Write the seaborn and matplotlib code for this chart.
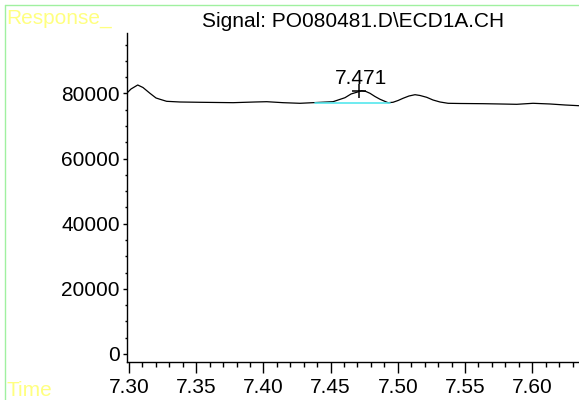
import matplotlib
matplotlib.use('Agg')
import matplotlib.pyplot as plt
from matplotlib.ticker import MultipleLocator
from matplotlib.lines import Line2D
import seaborn as sns

# chromatogram trace
time = [7.2983, 7.3015, 7.3065, 7.3104, 7.3156, 7.3201, 7.3231, 7.3280, 7.3379, 7.3528,
        7.3774, 7.3937, 7.4025, 7.4146, 7.4272, 7.4369, 7.4518, 7.4607, 7.4652, 7.4694,
        7.4731, 7.4763, 7.4793, 7.4830, 7.4868, 7.4927, 7.4964, 7.5002, 7.5039, 7.5083,
        7.5128, 7.5165, 7.5215, 7.5262, 7.5314, 7.5374, 7.5463, 7.5634, 7.5760, 7.5885,
        7.6006, 7.6132, 7.6244, 7.6348]
response = [80060, 81380, 82610, 81840, 80060, 78620, 78220, 77600, 77390, 77300,
            77180, 77390, 77480, 77180, 76990, 77180, 77480, 78710, 79850, 80370,
            80860, 80610, 80060, 79080, 78220, 77180, 77300, 77850, 78530, 79230,
            79630, 79390, 78830, 78000, 77390, 76990, 76930, 76870, 76780, 76680,
            76990, 76780, 76470, 76250]

peak_time = 7.471
peak_resp = 80860
peak_label = '7.471'
base_time = [7.4384, 7.4942]
base_resp = [76990, 76990]

title = 'Signal: PO080481.D\\ECD1A.CH'
x_ticks = [7.30, 7.35, 7.40, 7.45, 7.50, 7.55, 7.60]
y_ticks = [0, 20000, 40000, 60000, 80000]

sns.set_style('ticks')
plt.rcParams['font.family'] = ['Liberation Sans', 'DejaVu Sans']
plt.rcParams['text.color'] = 'black'
plt.rcParams['xtick.color'] = 'black'
plt.rcParams['ytick.color'] = 'black'
plt.rcParams['xtick.labelcolor'] = 'black'
plt.rcParams['ytick.labelcolor'] = 'black'
plt.rcParams['axes.labelcolor'] = 'black'

fig = plt.figure(figsize=(5.79, 4.0), dpi=100)
ax = fig.add_axes([126.7 / 579, 37.7 / 400, 1 - 126.7 / 579, (362.3 - 32.7) / 400])

sns.lineplot(x=time, y=response, ax=ax, color='black', lw=0.9)
sns.lineplot(x=base_time, y=base_resp, ax=ax, color='#55e8ee', lw=1.2)
ax.plot([peak_time], [peak_resp], marker='+', color='black', ms=10, mew=1.1)
ax.annotate(peak_label, (peak_time, peak_resp), xytext=(1.5, 2), textcoords='offset points',
            ha='center', va='bottom', fontsize=15, color='black')

ax.set_xlim(7.2983, 7.6348)
ax.set_ylim(-2550, 98670)
ax.set_xticks(x_ticks)
ax.set_xticklabels([f'{v:.2f}' for v in x_ticks])
ax.set_yticks(y_ticks)
ax.set_yticklabels([str(v) for v in y_ticks])
ax.xaxis.set_minor_locator(MultipleLocator(0.01))
ax.yaxis.set_minor_locator(MultipleLocator(5000))
ax.tick_params(axis='x', which='major', length=8, width=1, pad=3.5, labelsize=15)
ax.tick_params(axis='x', which='minor', length=3.6, width=1)
ax.tick_params(axis='y', which='major', length=3, width=1, pad=2, labelsize=15)
ax.tick_params(axis='y', which='minor', length=1.8, width=1)
ax.set_title(title, fontsize=15, pad=4, color='black')
ax.set_xlabel('')
ax.set_ylabel('')
sns.despine(ax=ax)
for s in ['left', 'bottom']:
    ax.spines[s].set_linewidth(1)
    ax.spines[s].set_color('black')

fig.text(6.5 / 579, 1 - 18 / 400, 'Response_', color='#ffff80', fontsize=15, va='center', ha='left')
fig.text(6.5 / 579, 1 - 390 / 400, 'Time', color='#ffff80', fontsize=15, va='center', ha='left')

green = '#a0f0a0'
fig.add_artist(Line2D([5.3 / 579, 1], [1 - 5 / 400, 1 - 5 / 400], color=green, lw=1))
fig.add_artist(Line2D([5.3 / 579, 5.3 / 579], [0, 1 - 5 / 400], color=green, lw=1))

fig.savefig('out.png', dpi=100)
